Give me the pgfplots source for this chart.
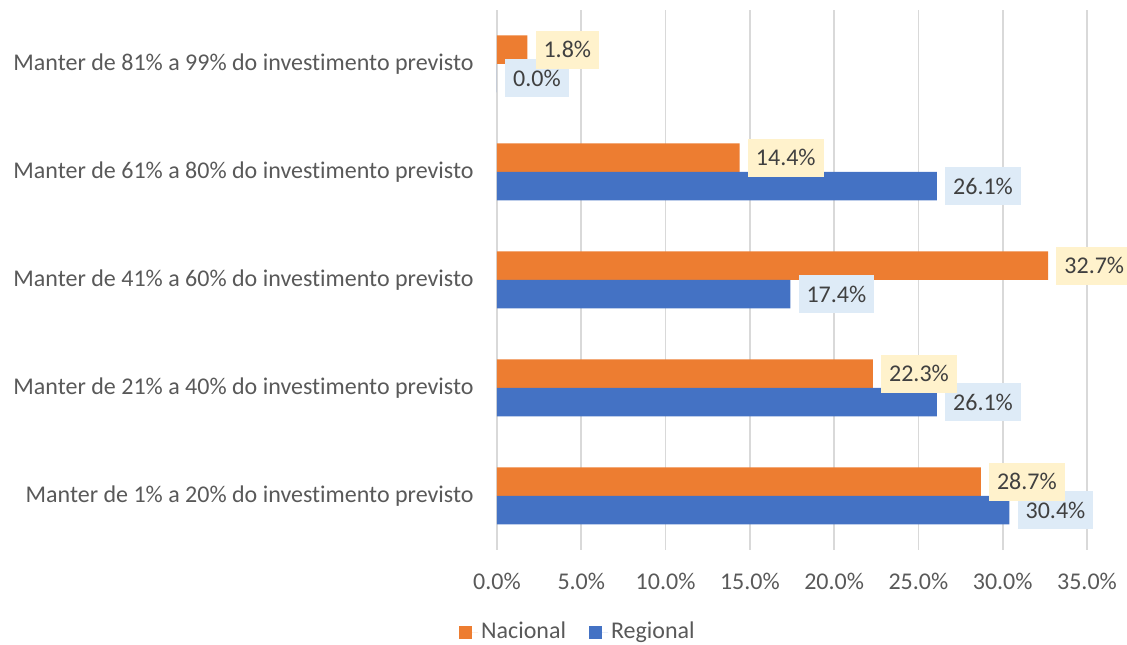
\documentclass[border=0pt]{standalone}
\usepackage{fontspec}
\setmainfont{Carlito}[Ligatures=NoCommon]
\usepackage{pgfplots}
\usepackage{pgfplotstable}
\pgfplotsset{compat=1.18}

\definecolor{nacional}{HTML}{ED7D31}
\definecolor{regional}{HTML}{4472C4}
\definecolor{grade}{HTML}{D9D9D9}
\definecolor{texto}{HTML}{595959}
\definecolor{rotulo}{HTML}{404040}
\definecolor{caixaamarela}{HTML}{FFF2CC}
\definecolor{caixaazul}{HTML}{DEEBF7}

% y = posicao da categoria (0 = em baixo)
\pgfplotstableread{
y nac reg
0 28.7 30.4
1 22.3 26.1
2 32.7 17.4
3 14.4 26.1
4 1.8 0.0
}\dados

\begin{document}
\fontsize{24}{29}\selectfont
\begin{tikzpicture}
\begin{axis}[
    scale only axis,
    width=590pt, height=540pt,
    xmin=0, xmax=35,
    ymin=-0.5, ymax=4.5,
    xbar,
    bar width=28.5pt,
    axis line style={draw=none},
    tick style={draw=none},
    xmajorgrids,
    grid style={color=grade, line width=1.6pt},
    xtick={0,5,...,35},
    xticklabels={0.0\%,5.0\%,10.0\%,15.0\%,20.0\%,25.0\%,30.0\%,35.0\%},
    ytick={0,...,4},
    yticklabels={
        Manter de 1\% a 20\% do investimento previsto,
        Manter de 21\% a 40\% do investimento previsto,
        Manter de 41\% a 60\% do investimento previsto,
        Manter de 61\% a 80\% do investimento previsto,
        Manter de 81\% a 99\% do investimento previsto},
    ticklabel style={text=texto},
    xticklabel style={yshift=-15pt},
    yticklabel style={xshift=-11pt},
    /pgf/number format/assume math mode=true,
    legend style={at={(0.138,-0.152)}, anchor=center, draw=none, fill=none,
        legend columns=2, text=texto,
        nodes={inner sep=3pt},
        /tikz/every even column/.append style={column sep=20pt}},
    legend image code/.code={\fill[#1] (0pt,-6.5pt) rectangle (13pt,6.5pt);
        \path (0pt,0pt) -- (19pt,0pt);},
]
\addplot[draw=none, fill=nacional, bar shift=14.25pt, forget plot]
    table[x=nac, y=y]{\dados};
\addplot[draw=none, fill=regional, bar shift=-14.25pt, forget plot]
    table[x=reg, y=y]{\dados};
% rotulos (Regional primeiro, Nacional por cima)
\addplot[draw=none, fill=none, bar shift=-14.25pt, forget plot,
    point meta=x,
    nodes near coords={\pgfmathprintnumber[fixed,fixed zerofill,precision=1]{\pgfplotspointmeta}\%},
    nodes near coords style={fill=caixaazul, text=rotulo, anchor=west,
        xshift=8pt, inner xsep=8pt, minimum height=38pt}]
    table[x=reg, y=y]{\dados};
\addplot[draw=none, fill=none, bar shift=14.25pt, forget plot,
    point meta=x,
    nodes near coords={\pgfmathprintnumber[fixed,fixed zerofill,precision=1]{\pgfplotspointmeta}\%},
    nodes near coords style={fill=caixaamarela, text=rotulo, anchor=west,
        xshift=8pt, inner xsep=8pt, minimum height=38pt}]
    table[x=nac, y=y]{\dados};
\addlegendimage{fill=nacional, draw=none}
\addlegendentry{Nacional}
\addlegendimage{fill=regional, draw=none}
\addlegendentry{Regional}
\end{axis}
\pgfresetboundingbox
\path ([shift={(-497pt,-95pt)}]current axis.south west)
    rectangle ([shift={(40pt,10pt)}]current axis.north east);
\end{tikzpicture}
\end{document}
